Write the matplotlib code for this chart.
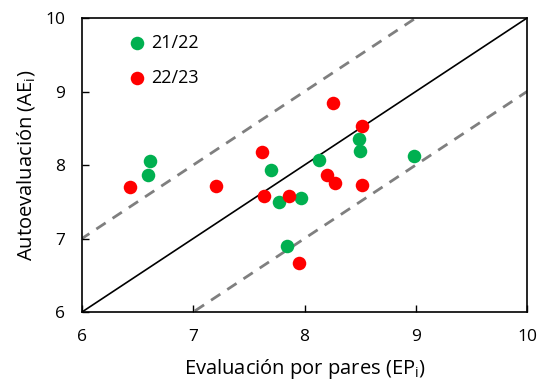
import numpy as np
import matplotlib
matplotlib.use('Agg')
import matplotlib.pyplot as plt

plt.rcParams['font.family'] = ['Open Sans', 'DejaVu Sans']

# 21/22 cohort
ep_2122 = [6.61, 6.59, 7.70, 7.77, 7.97, 7.84, 8.13, 8.49, 8.50, 8.98]
ae_2122 = [8.06, 7.86, 7.93, 7.50, 7.55, 6.90, 8.07, 8.35, 8.19, 8.12]
# 22/23 cohort
ep_2223 = [6.43, 7.20, 7.62, 7.64, 7.86, 7.95, 8.26, 8.52, 8.20, 8.27, 8.52]
ae_2223 = [7.70, 7.71, 8.18, 7.58, 7.58, 6.66, 8.84, 8.53, 7.86, 7.75, 7.73]

ticks = [6, 7, 8, 9, 10]

fig = plt.figure(figsize=(5.38, 3.85), dpi=100)
ax = fig.add_axes([0.1524, 0.1896, 0.8272, 0.7636])

line = np.array([5, 11])
ax.plot(line, line, color='black', lw=1.2, zorder=1)
ax.plot(line, line + 1, color='#7f7f7f', lw=2, ls=(0, (4, 3)), zorder=1)
ax.plot(line, line - 1, color='#7f7f7f', lw=2, ls=(0, (4, 3)), zorder=1)

ax.scatter(ep_2122, ae_2122, s=95, color='#00B050', label='21/22', zorder=3, linewidths=0)
ax.scatter(ep_2223, ae_2223, s=95, color='#FF0000', label='22/23', zorder=3, linewidths=0)

ax.set_xlim(6, 10)
ax.set_ylim(6, 10)
ax.set_xticks(ticks)
ax.set_yticks(ticks)
ax.tick_params(direction='in', labelsize=12.5, length=5, width=1, pad=12)
for sp in ax.spines.values():
    sp.set_linewidth(1.2)

ax.set_xlabel('Evaluación por pares (EP$_\\mathregular{i}$)', fontsize=14.5, labelpad=9)
ax.set_ylabel('Autoevaluación (AE$_\\mathregular{i}$)', fontsize=14.5, labelpad=6)

ax.legend(loc='upper left', frameon=False, fontsize=13, handletextpad=-0.2,
          borderaxespad=0.3, labelspacing=0.95, bbox_to_anchor=(0.055, 0.99))

fig.savefig('out.png', dpi=100)
